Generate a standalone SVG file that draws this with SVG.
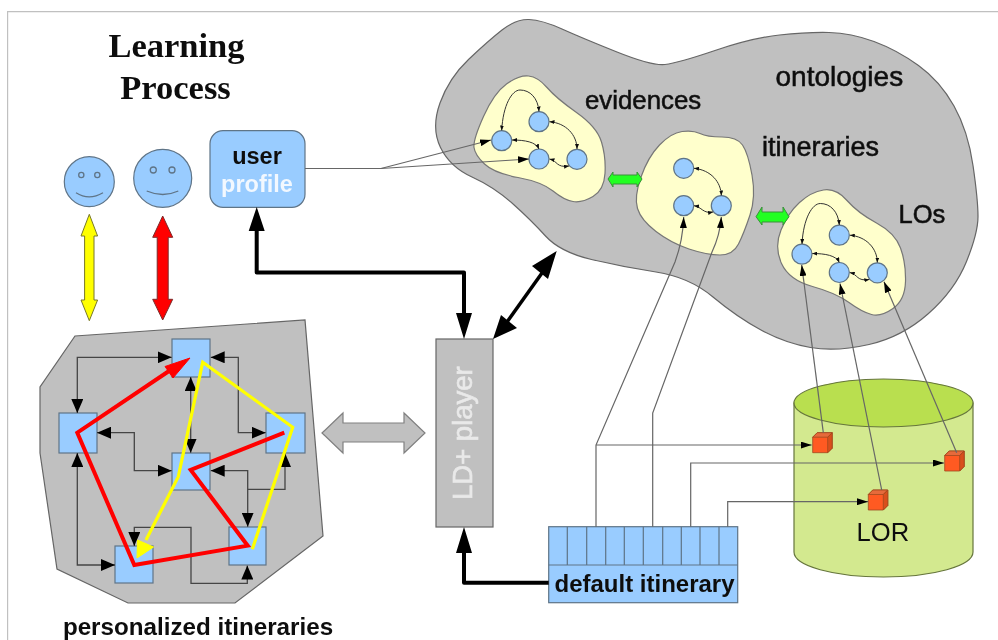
<svg xmlns="http://www.w3.org/2000/svg" width="998" height="640" viewBox="0 0 998 640">
<style>
text{font-family:"Liberation Sans",Arial,sans-serif;fill:#111}
.b{font-weight:bold}
.m{stroke:#111;stroke-width:.55px}
.title{font-family:"Liberation Serif","Times New Roman",serif;font-weight:bold;font-size:34.5px;text-anchor:middle}
.blue{fill:#99ccff;stroke:#5f7487;stroke-width:1.2}
.gray{fill:#c0c0c0;stroke:#666;stroke-width:1.2}
.cream{fill:#ffffcc;stroke:#777;stroke-width:1.2}
.thick{fill:none;stroke:#000;stroke-width:4;stroke-linejoin:round}
.sq{fill:none;stroke:#444;stroke-width:1.3}
.thin{fill:none;stroke:#666;stroke-width:1.2}
.cv{fill:none;stroke:#333;stroke-width:1}
.cube{stroke:#a04a20;stroke-width:.8}
</style>
<defs>
<filter id="soft" x="0" y="0" width="100%" height="100%"><feGaussianBlur stdDeviation="0.45"/></filter>
<marker id="mid" viewBox="0 0 14 12" refX="14" refY="6" markerWidth="14" markerHeight="12" markerUnits="userSpaceOnUse" orient="auto-start-reverse"><path d="M0 0L14 6L0 12Z" fill="#000"/></marker>
<marker id="sm" viewBox="0 0 11 7" refX="11" refY="3.5" markerWidth="11" markerHeight="7" markerUnits="userSpaceOnUse" orient="auto-start-reverse"><path d="M0 0L11 3.5L0 7Z" fill="#000"/></marker>
<marker id="tiny" viewBox="0 0 5 4" refX="5" refY="2" markerWidth="5" markerHeight="4" markerUnits="userSpaceOnUse" orient="auto-start-reverse"><path d="M0 0L5 2L0 4Z" fill="#111"/></marker>
<g id="curves4">
<path class="cv" marker-start="url(#tiny)" marker-end="url(#tiny)" d="M501.7 130.5C503 105 512 90 520 90C530 90 538 98 539 111.5"/>
<path class="cv" marker-start="url(#tiny)" marker-end="url(#tiny)" d="M549.5 121.7C566 123 577 135 577 149"/>
<path class="cv" marker-start="url(#tiny)" marker-end="url(#tiny)" d="M512 140C525 140 536 142 539 149"/>
<path class="cv" marker-start="url(#tiny)" marker-end="url(#tiny)" d="M549.5 159C558 161 556 168 569 166"/>
</g>
<g id="circles4">
<circle class="blue" cx="501.7" cy="140.7" r="10"/><circle class="blue" cx="539" cy="121.7" r="10"/><circle class="blue" cx="539" cy="159" r="10"/><circle class="blue" cx="577" cy="159.3" r="10"/>
</g>
<g id="cube">
<path d="M0 4.5L4.5 0H19.5V15.5L15 20H0Z" fill="#ff5a22" class="cube"/>
<path d="M0 4.5L4.5 0H19.5L15 4.5Z" fill="#e66a3a" class="cube"/>
<path d="M15 4.5L19.5 0V15.5L15 20Z" fill="#d9501c" class="cube"/>
</g>
</defs>
<rect width="998" height="640" fill="#fff"/>
<g filter="url(#soft)">
<path d="M7 640V11H998" fill="none" stroke="#c0c0c0" stroke-width="2.4"/>

<g id="title"><text class="title" x="176.5" y="57">Learning</text><text class="title" x="175.5" y="98.5">Process</text></g>

<g id="learner-1"><circle class="blue" cx="89.3" cy="181.7" r="25"/><circle cx="81.3" cy="175" r="2.6" fill="none" stroke="#5f7487" stroke-width="1.3"/><circle cx="97.3" cy="175" r="2.6" fill="none" stroke="#5f7487" stroke-width="1.3"/><path d="M76 192.7Q89 201 103 192.7" fill="none" stroke="#5f7487" stroke-width="1.3"/></g>
<g id="learner-2"><circle class="blue" cx="162.7" cy="178.3" r="29"/><circle cx="153.3" cy="170" r="3" fill="none" stroke="#5f7487" stroke-width="1.3"/><circle cx="172" cy="170" r="3" fill="none" stroke="#5f7487" stroke-width="1.3"/><path d="M146.7 191Q163 198 178.3 191" fill="none" stroke="#5f7487" stroke-width="1.3"/></g>

<g id="user-profile"><rect class="blue" x="210" y="130.7" width="95" height="76.6" rx="13"/><text class="b" x="257" y="164" font-size="23.5" text-anchor="middle">user</text><text class="b" x="257" y="191.7" font-size="23.5" text-anchor="middle" style="fill:#f2f8ff">profile</text></g>

<g id="ontologies"><path class="gray" d="M440 103Q449 78 468.5 59.5Q488 41 502 30Q516 19 529 19.5Q542 20 562 29Q582 38 617 52Q652 66 665 64.5Q678 63 715 50.5Q752 38 779.5 35Q807 32 829 32.5Q851 33 874 41.5Q897 50 918.5 65.5Q940 81 954 106Q968 131 973 165.5Q978 200 978 216.5Q978 233 966.5 261.5Q955 290 928.5 313.5Q902 337 869 344.5Q836 352 810.5 347.5Q785 343 761 330Q737 317 713 297Q689 277 656 272Q623 267 591.5 259.5Q560 252 545.5 236Q531 220 512.5 203.5Q494 187 472 177Q450 167 440.5 147.5Q431 128 440 103Z"/><text class="m" x="775.5" y="86" font-size="28">ontologies</text></g>

<g id="evidences"><path class="cream" d="M483.5 116.5Q494 93 506.5 84Q519 75 528.5 76Q538 77 547 87.5Q556 98 576.5 112.5Q597 127 601.5 142Q606 157 605 173.5Q604 190 593 196.5Q582 203 573 201.5Q564 200 553 191Q542 182 518 177.5Q494 173 484.5 164Q475 155 474 147.5Q473 140 483.5 116.5Z"/><use href="#circles4"/><text class="m" x="585" y="108.5" font-size="25.8">evidences</text></g>

<g id="itineraries"><path class="cream" d="M641 177Q648 157 659.5 145Q671 133 682 131.5Q693 130 700 133.5Q707 137 722 137Q737 137 742.5 145Q748 153 752 175Q756 197 750 215Q744 233 738.5 244Q733 255 720 255Q707 255 689 249Q671 243 656 231.5Q641 220 637.5 208.5Q634 197 641 177Z"/><circle class="blue" cx="683.7" cy="168.3" r="10"/><circle class="blue" cx="683.7" cy="205.7" r="10"/><circle class="blue" cx="721.3" cy="205.7" r="10"/><text class="m" x="762" y="156" font-size="27">itineraries</text></g>

<g id="los"><path class="cream" d="M781 230Q788 213 799.5 202.5Q811 192 823.5 190Q836 188 847 200.5Q858 213 876.5 223Q895 233 900.5 248Q906 263 905.5 281.5Q905 300 893 308.5Q881 317 871.5 314.5Q862 312 849 302.5Q836 293 812.5 286.5Q789 280 781.5 263.5Q774 247 781 230Z"/><use href="#circles4" x="300.3" y="113.5"/><text class="m" x="898.5" y="222.7" font-size="25.5">LOs</text></g>

<g id="personalized-itineraries"><path class="gray" d="M75 336L305 320L323 536L235 603H128L57 569L40 453V387Z"/>
<rect class="blue" x="172" y="339" width="38" height="38"/><rect class="blue" x="59" y="413" width="38" height="40"/><rect class="blue" x="266" y="413" width="39" height="40"/><rect class="blue" x="172" y="453" width="38" height="37"/><rect class="blue" x="115" y="546" width="38" height="37"/><rect class="blue" x="229" y="527" width="37" height="38"/>
<text class="b" x="198" y="635" font-size="24.2" text-anchor="middle">personalized itineraries</text></g>

<g id="ld-player"><rect class="gray" x="436" y="339" width="57" height="188"/><text transform="translate(471.5 500) rotate(-90)" font-size="27.5" style="fill:#e9e9e9;stroke:#e9e9e9;stroke-width:.6px">LD+ player</text></g>

<g id="lor"><path d="M794 403V552C794 566 834 577 883.5 577C933 577 973 566 973 552V403Z" fill="#d3e98f" stroke="#66763c" stroke-width="1.2"/><ellipse cx="883.5" cy="403" rx="89.5" ry="24" fill="#b9df4f" stroke="#66763c" stroke-width="1.2"/><text x="856.5" y="540.7" font-size="25.6">LOR</text>
<use href="#cube" x="812.7" y="432.7"/><use href="#cube" x="944.7" y="451"/><use href="#cube" x="868.3" y="490"/></g>

<g id="default-itinerary"><rect class="blue" x="548.7" y="526.7" width="189" height="76"/><path d="M548.7 565H737.7M567.3 526.7V565M586.7 526.7V565M605.7 526.7V565M624.3 526.7V565M643.3 526.7V565M662.7 526.7V565M681.3 526.7V565M700 526.7V565M719 526.7V565" fill="none" stroke="#5f7487" stroke-width="1.2"/><text class="b" x="644.5" y="591.7" font-size="24" text-anchor="middle">default itinerary</text></g>

<g id="connectors">
<use href="#curves4"/><use href="#curves4" x="300.3" y="113.5"/>
<path class="cv" marker-start="url(#tiny)" marker-end="url(#tiny)" d="M694 168.3C711 170 721 182 721.3 195.5"/>
<path class="cv" marker-start="url(#tiny)" marker-end="url(#tiny)" d="M694 205.7C702 207 703 214 713 212"/>

<path class="thin" marker-end="url(#sm)" d="M305 168.5H381L491 140"/>
<path class="thin" marker-end="url(#sm)" d="M381 168.5L529 159"/>
<path class="thick" d="M256.7 230V272.5H464V313"/>
<path d="M256.7 207L248.7 231H264.7ZM464 339L456 313H472ZM464 527L456 553H472Z" fill="#000"/>
<path class="thick" d="M464 553V582.7H548.7"/>
<path d="M493 339L501 315L517 328ZM556.7 251L532 266L548 279Z" fill="#000"/>
<path d="M507 322L542 273" stroke="#000" stroke-width="3.5" fill="none"/>

<path id="arrow-yellow" d="M89.3 214.3L97.6 236H94V300H97.6L89.3 320.7L81 300H84.6V236H81Z" fill="#ffff00" stroke="#77772a"/>
<path id="arrow-red" d="M162.7 216L172.7 237.3H168.2V299.3H172.7L162.7 320L152.7 299.3H157.2V237.3H152.7Z" fill="#ff0000" stroke="#7a2a2a"/>
<path id="arrow-gray" d="M322 433L343 413V423H404V413L425 433L404 453V442H343V453Z" fill="#c0c0c0" stroke="#808080" stroke-width="1.2"/>
<path id="arrow-green-1" d="M608 179L613 172V175H637V172L642 179L637 187V184H613V187Z" fill="#22ff22" stroke="#3a8f3a"/>
<path id="arrow-green-2" d="M756 216.7L762 207V212H783V207L789 216.7L783 225V222H762V225Z" fill="#22ff22" stroke="#3a8f3a"/>

<path class="sq" marker-start="url(#mid)" marker-end="url(#mid)" d="M77.3 413V357.3H171.7"/>
<path class="sq" marker-start="url(#mid)" marker-end="url(#mid)" d="M210.7 357.3H238.3V432.7H265.7"/>
<path class="sq" marker-start="url(#mid)" marker-end="url(#mid)" d="M190.7 377V452.7"/>
<path class="sq" marker-start="url(#mid)" marker-end="url(#mid)" d="M97 432.7H134.3V470.7H171.7"/>
<path class="sq" marker-start="url(#mid)" marker-end="url(#mid)" d="M210.7 470.7H247.7V526.7"/>
<path class="sq" marker-end="url(#mid)" d="M247.7 489.3H285V453"/>
<path class="sq" marker-start="url(#mid)" marker-end="url(#mid)" d="M77.3 453V565H115"/>
<path class="sq" marker-start="url(#mid)" marker-end="url(#mid)" d="M134.3 546V527.3H191V583.3H247.3V565.5"/>

<path d="M252.3 549.3L292.7 427.3L202.7 362.3L178.3 476.7L146 540" fill="none" stroke="#ffff00" stroke-width="3.2"/>
<path d="M137 558L137.5 540L153.5 547Z" fill="#ffff00" stroke="#ffff00" stroke-width="1"/>
<path d="M284.3 432.7L190.7 470L247.7 545.7L134.3 565L77.3 432.7L172 369" fill="none" stroke="#ff0000" stroke-width="4"/>
<path d="M190 358L165 366.5L173 378Z" fill="#ff0000" stroke="#ff0000" stroke-width="1"/>

<path class="thin" marker-end="url(#sm)" d="M596 526.7V445L675 262Q683 240 683.7 217"/>
<path class="thin" marker-end="url(#sm)" d="M596 445H811.7"/>
<path class="thin" marker-end="url(#sm)" d="M652.7 526.7V413L712 252Q720 235 721.3 217"/>
<path class="thin" marker-end="url(#sm)" d="M690.7 526.7V463H944"/>
<path class="thin" marker-end="url(#sm)" d="M727.7 526.7V501.7H868"/>
<path class="thin" marker-end="url(#sm)" d="M823.3 432.7L801.7 265"/>
<path class="thin" marker-end="url(#sm)" d="M881.7 490L840 283.5"/>
<path class="thin" marker-end="url(#sm)" d="M956.7 452.7L884 281.7"/>
</g>
</g>
</svg>
